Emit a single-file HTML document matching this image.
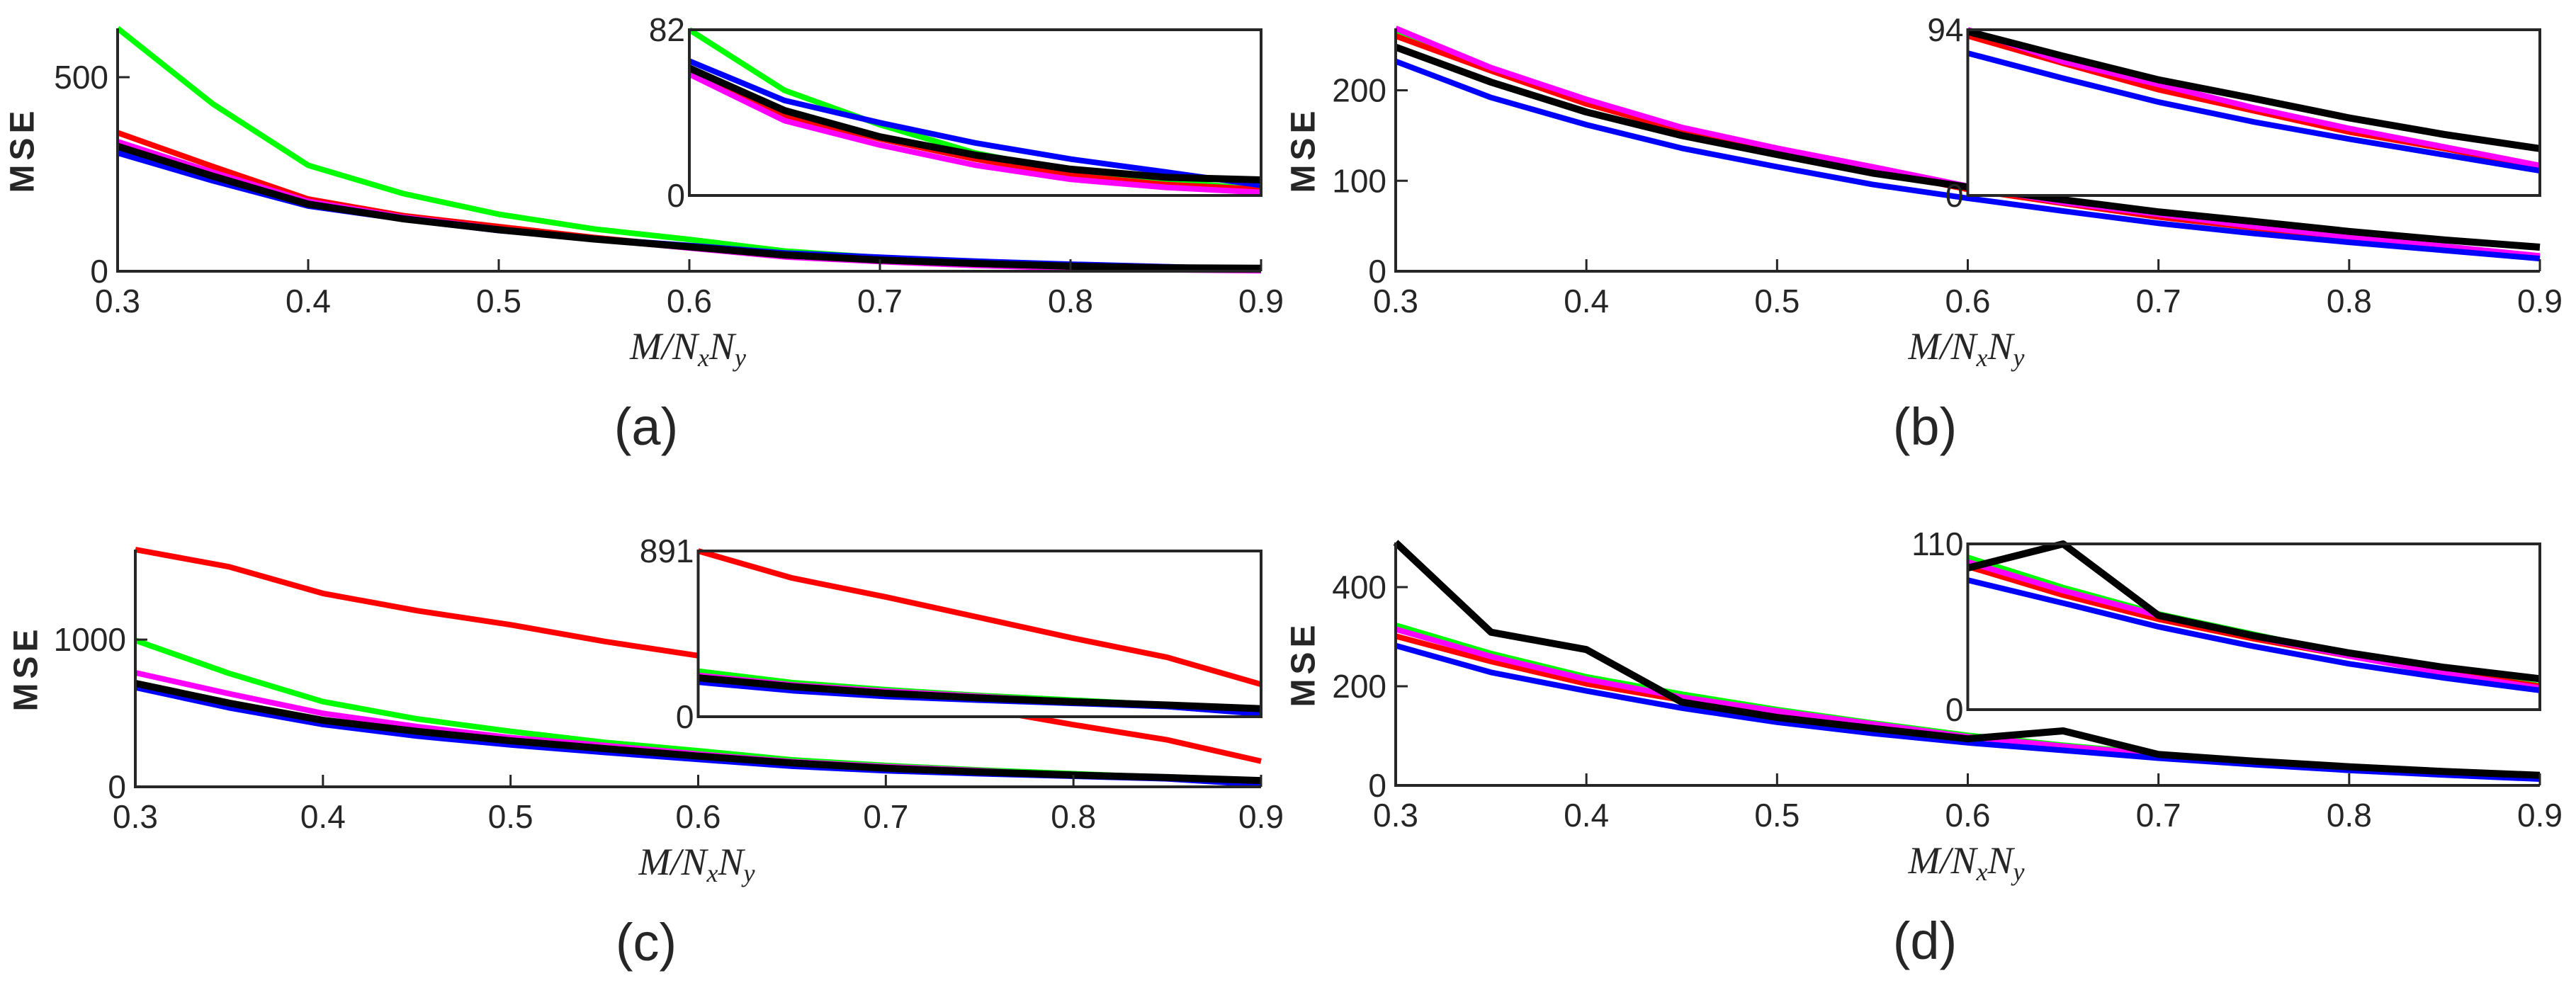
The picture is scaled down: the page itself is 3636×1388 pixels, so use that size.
<!DOCTYPE html>
<html><head><meta charset="utf-8"><style>
html,body{margin:0;padding:0;background:#fff;}
svg{display:block;}
text{fill:#262626;}
</style></head><body>
<svg id="fig" width="3636" height="1388" viewBox="0 0 3636 1388" xmlns="http://www.w3.org/2000/svg"></svg>
<script>
const xs = [0.3,0.35,0.4,0.45,0.5,0.55,0.6,0.65,0.7,0.75,0.8,0.85,0.9];
// Panel (a)
const aGreen   = [626,431,273,200,147,109,82,52,35,21,12,7,3];
const aRed     = [357,270,186,143,115,87,63,39.5,28,18,10,5.4,3];
const aMagenta = [334,255,180,139,109,83,60,37,25,15,8,4,1.5];
const aBlue    = [305,233,168,134,105,84,66.5,47,36,26,18,11.6,5];
const aBlack   = [322,245,173,135,107,83,63,42,29,20,13,9,7.7];
// Panel (b)
const bGreen   = [265,223,188,157,134,114,93,75,62,49,37,27,16.5];
const bRed     = [260,221.5,185,155.5,133.6,112,90.5,75,60,48,36,26.6,16];
const bMagenta = [268.5,225,190,159,136,115.5,94,76,63,49.7,38,27.5,17];
const bBlue    = [232,192,162,136,115.5,96,80.7,66.5,53,41.7,32,23,14];
const bBlack   = [247.7,209,176,150,129,108.5,93,79,65.6,55,44,34.6,26.6];
// Panel (c)
const cGreen   = [995,771,579,462,377,302,245,183,145,114,89,63,29];
const cRed     = [1612,1495,1314,1197,1101,988,891,746,644,533,422,319,174];
const cMagenta = [775,633,499,409,334,281,222,171,137,109,80,55,17];
const cBlue    = [675,537,424,345,285,234,186,140,109,89,72,55,15];
const cBlack   = [703,569,452,377,313,260,209,162,126,101,80,63,43];
// Panel (d)
const dGreen   = [323,266,219,184,153,126,101,81,63.5,50,36.6,25,16];
const dRed     = [301,250,205,172,144.5,121,95,76,60,47,35.6,25,15.5];
const dMagenta = [315,260,214,178,150,124,98,79,62.5,48.6,35.6,24,14.3];
const dBlue    = [282,228,190.5,156,127.5,105,86,70.7,55,42,30.4,21,12.8];
const dBlack   = [490,309,274,168,137,115,94,110,62.5,49,37.6,28,20.5];
const xTicks = [0.3,0.4,0.5,0.6,0.7,0.8,0.9];
const xTickLabels = ["0.3","0.4","0.5","0.6","0.7","0.8","0.9"];
const aYTicks = [0,500], bYTicks = [0,100,200], cYTicks = [0,1000], dYTicks = [0,200,400];
const insetYMax = [82,94,891,110];

const NS = "http://www.w3.org/2000/svg";
const fig = document.getElementById('fig');
function mk(tag, attrs, parent){
  const e = document.createElementNS(NS, tag);
  for (const k in attrs) e.setAttribute(k, attrs[k]);
  (parent||fig).appendChild(e);
  return e;
}
const colors = {green:'#00ff00', red:'#ff0000', magenta:'#ff00ff', blue:'#0000ff', black:'#000000'};
const panels = [
  {id:'a', left:166, right:1780, base:383, top:40, yTicks:aYTicks, cap:'(a)', capX:912, msex:32,
   series:{green:aGreen, red:aRed, magenta:aMagenta, blue:aBlue, black:aBlack}},
  {id:'b', left:1970, right:3585, base:383, top:40, yTicks:bYTicks, cap:'(b)', capX:2717, msex:1840,
   series:{green:bGreen, red:bRed, magenta:bMagenta, blue:bBlue, black:bBlack}},
  {id:'c', left:191, right:1780, base:1111, top:776, yTicks:cYTicks, cap:'(c)', capX:912, msex:37,
   series:{green:cGreen, red:cRed, magenta:cMagenta, blue:cBlue, black:cBlack}},
  {id:'d', left:1970, right:3585, base:1109, top:766, yTicks:dYTicks, cap:'(d)', capX:2717, msex:1840,
   series:{green:dGreen, red:dRed, magenta:dMagenta, blue:dBlue, black:dBlack}}
];
const order = ['green','red','magenta','blue','black'];
panels.forEach((p, pi) => {
  const g = mk('g', {});
  
  
  let ymax = 0;
  order.forEach(k => p.series[k].forEach(v => { if (v > ymax) ymax = v; }));
  const X = x => p.left + (x - 0.3) / 0.6 * (p.right - p.left);
  const Y = v => p.base - v / ymax * (p.base - p.top);
  order.forEach(k => {
    const pts = xs.map((x,i) => X(x).toFixed(1) + ',' + Y(p.series[k][i]).toFixed(1)).join(' ');
    const l = mk('polyline', {points:pts, fill:'none', stroke:colors[k], 'stroke-width': k==='black'?10:8, 'stroke-linejoin':'round'}, g);
    
    
  });
  const ax = mk('path', {d:`M${p.left},${p.top} L${p.left},${p.base} L${p.right},${p.base}`, fill:'none', stroke:'#262626', 'stroke-width':4}, g);
  
  
  xTicks.forEach((t,i) => {
    mk('line', {x1:X(t), x2:X(t), y1:p.base, y2:p.base-17, stroke:'#262626','stroke-width':3}, g);
    const tx = mk('text', {x:X(t), y:p.base+58, 'font-family':'Liberation Sans, sans-serif','font-size':46,'text-anchor':'middle'}, g);
    tx.textContent = xTickLabels[i];
    
    
  });
  p.yTicks.forEach(t => {
    mk('line', {x1:p.left, x2:p.left+17, y1:Y(t), y2:Y(t), stroke:'#262626','stroke-width':3}, g);
    const tx = mk('text', {x:p.left-13, y:Y(t)+16, 'font-family':'Liberation Sans, sans-serif','font-size':46,'text-anchor':'end'}, g);
    tx.textContent = String(t);
    
    
  });
  const my = (p.top + p.base)/2;
  const mse = mk('text', {x:p.msex, y:my, transform:`rotate(-90 ${p.msex} ${my})`, 'font-family':'Liberation Sans, sans-serif','font-size':48,'font-weight':'bold','text-anchor':'middle','dominant-baseline':'central','letter-spacing':6}, g);
  mse.textContent = 'MSE';
  
  
  const xl = mk('text', {x:(p.left+p.right)/2 - 2, y:p.base+124, 'font-family':'Liberation Serif, serif','font-size':54,'font-style':'italic','text-anchor':'middle'}, g);
  xl.innerHTML = 'M/N<tspan font-size="36" dy="10">x</tspan><tspan dy="-10">N</tspan><tspan font-size="36" dy="10">y</tspan>';
  
  
  const cap = mk('text', {x:p.capX, y:p.base+245, 'font-family':'Liberation Sans, sans-serif','font-size':74,'text-anchor':'middle'}, g);
  cap.textContent = p.cap;
  
  
  const ig = mk('g', {}, g);
  
  
  const il = X(0.6), ir = X(0.9), it = p.top + 2, ib = p.top + 236;
  const imax = insetYMax[pi];
  const IX = x => il + (x - 0.6) / 0.3 * (ir - il);
  const IY = v => ib - v / imax * (ib - it);
  mk('rect', {x:il, y:it, width:ir-il, height:ib-it, fill:'#fff'}, ig);
  order.forEach(k => {
    const pts = xs.map((x,i) => ({x, v:p.series[k][i]})).filter(o => o.x >= 0.599)
      .map(o => IX(o.x).toFixed(1) + ',' + IY(o.v).toFixed(1)).join(' ');
    const l = mk('polyline', {points:pts, fill:'none', stroke:colors[k], 'stroke-width': k==='black'?10:8, 'stroke-linejoin':'round'}, ig);
    
    
  });
  mk('rect', {x:il, y:it, width:ir-il, height:ib-it, fill:'none', stroke:'#262626','stroke-width':4}, ig);
  [[0, ib], [imax, it]].forEach(([v,yy]) => {
    const tx = mk('text', {x:il-6, y:yy+16, 'font-family':'Liberation Sans, sans-serif','font-size':46,'text-anchor':'end'}, ig);
    tx.textContent = String(v);
    
    
  });
});
</script>
</body></html>
